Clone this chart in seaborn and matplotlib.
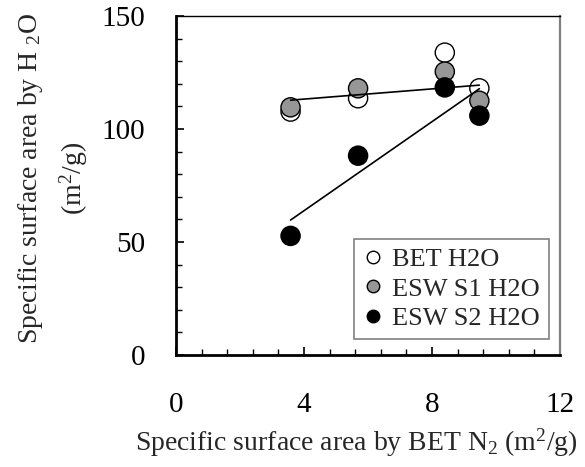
import numpy as np
import pandas as pd
import matplotlib
matplotlib.use("Agg")
import matplotlib.pyplot as plt
from matplotlib.ticker import MultipleLocator
import seaborn as sns

# Specific surface area measured by BET N2 (m2/g)
bet_n2 = [3.58, 5.69, 8.40, 9.48]
# Specific surface area by H2O for the three evaluation methods (m2/g)
bet_h2o = [107.7, 113.6, 133.8, 118.0]
esw_s1_h2o = [109.6, 118.0, 125.4, 112.5]
esw_s2_h2o = [52.7, 88.2, 118.4, 105.9]
series_names = ["BET H2O", "ESW S1 H2O", "ESW S2 H2O"]
x_ticks = [0, 4, 8, 12]
y_ticks = [0, 50, 100, 150]

df = pd.DataFrame({
    "x": bet_n2 * 3,
    "y": bet_h2o + esw_s1_h2o + esw_s2_h2o,
    "series": [s for s in series_names for _ in bet_n2],
})

sns.set_theme(style="white")
plt.rcParams["font.family"] = ["Liberation Serif", "DejaVu Serif"]
plt.rcParams["mathtext.fontset"] = "custom"
plt.rcParams["mathtext.rm"] = "Liberation Serif"
plt.rcParams["mathtext.it"] = "Liberation Serif"
plt.rcParams["mathtext.default"] = "rm"

fig = plt.figure(figsize=(5.85, 4.67), dpi=100)
ax = fig.add_axes([176 / 585, 1 - 355 / 467, 384 / 585, 339 / 467])

palette = {"BET H2O": "white", "ESW S1 H2O": "#969696", "ESW S2 H2O": "black"}
sns.scatterplot(data=df, x="x", y="y", hue="series", hue_order=series_names,
                palette=palette, s=190, edgecolor="black", linewidth=1.0,
                ax=ax, zorder=2, legend=False)

# Linear trend lines for the two ESW series
for ys in (esw_s1_h2o, esw_s2_h2o):
    sns.regplot(x=np.array(bet_n2), y=np.array(ys), scatter=False, ci=None,
                truncate=True, ax=ax,
                line_kws=dict(color="black", lw=1.2, zorder=3))

ax.set_xlim(0, 12)
ax.set_ylim(0, 150)
ax.set_xticks(x_ticks)
ax.set_yticks(y_ticks)
ax.xaxis.set_minor_locator(MultipleLocator(0.8))
ax.yaxis.set_minor_locator(MultipleLocator(10))
ax.tick_params(which="both", direction="in", colors="black", labelsize=21,
               left=True, bottom=True, top=False, right=False)
ax.tick_params(axis="x", which="major", length=6, width=1.2, pad=27)
ax.tick_params(axis="x", which="minor", length=4, width=1.0)
ax.tick_params(axis="y", which="major", length=6, width=1.2, pad=22)
ax.tick_params(axis="y", which="minor", length=4, width=1.0)
ax.set_xticklabels([str(t) for t in x_ticks])
ax.set_yticklabels([str(t) for t in y_ticks])

for side in ("left", "bottom"):
    ax.spines[side].set_color("black")
    ax.spines[side].set_linewidth(2.0)
ax.spines["top"].set_color("black")
ax.spines["top"].set_linewidth(1.0)
ax.spines["right"].set_color("#808080")
ax.spines["right"].set_linewidth(1.6)

ax.set_xlabel(r"Specific surface area by BET N$_2$ (m$^2$/g)",
              fontsize=20, va="center")
ax.xaxis.set_label_coords(0.4706, -0.26)
ax.set_ylabel("Specific surface area by H $_{2}$O\n(m$^{2}$/g)",
              fontsize=20, va="center", linespacing=1.5)
ax.yaxis.set_label_coords(-0.320, 0.522)

handles = [plt.Line2D([], [], ls="none", marker="o", markersize=9,
                      markerfacecolor=palette[s], markeredgecolor="black",
                      markeredgewidth=1.0) for s in series_names]
leg = ax.legend(handles, series_names, loc="lower right",
                bbox_to_anchor=(0.971, 0.047), borderaxespad=0,
                fontsize=19, frameon=True, fancybox=False, handlelength=0.8,
                handletextpad=0.3, labelspacing=0.22, borderpad=0.35)
leg.get_frame().set_edgecolor("#606060")
leg.get_frame().set_linewidth(1.2)

fig.savefig("out.png", dpi=100)
